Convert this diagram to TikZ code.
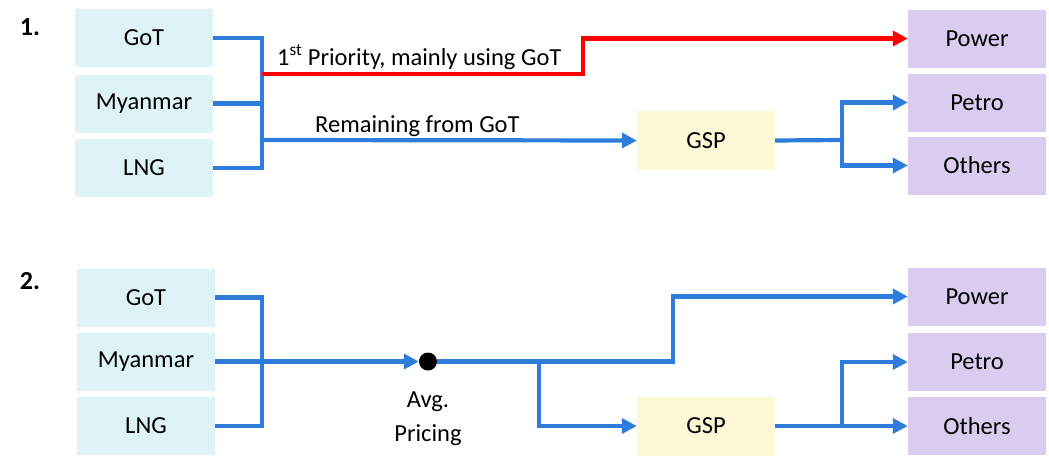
\documentclass[tikz,border=0pt]{standalone}
\usepackage{fontspec}
\setmainfont{Carlito}
\usetikzlibrary{arrows.meta}
\definecolor{srcfill}{RGB}{221,243,246}
\definecolor{dstfill}{RGB}{217,204,238}
\definecolor{gspfill}{RGB}{253,249,214}
\definecolor{flowblue}{RGB}{46,125,220}
\definecolor{flowred}{RGB}{255,0,0}
\tikzset{
  box/.style={rectangle, draw=none, minimum width=138pt, minimum height=58pt, inner sep=0pt,
              font=\fontsize{24.5}{28}\selectfont},
  srcbox/.style={box, fill=srcfill},
  dstbox/.style={box, fill=dstfill},
  gspbox/.style={box, fill=gspfill, minimum height=59pt},
  flow/.style={draw=flowblue, line width=4.2pt},
  redflow/.style={draw=flowred, line width=4.2pt},
  tip/.style={-{Triangle[length=15pt,width=15pt]}},
  lbl/.style={font=\fontsize{24.5}{28}\selectfont, inner sep=0pt},
  num/.style={font=\fontsize{26}{28}\selectfont\bfseries, inner sep=0pt}
}
\begin{document}
\begin{tikzpicture}[x=1pt,y=-1pt]
\useasboundingbox (0,0) rectangle (1049,455);

% ---------- Part 1 ----------
\node[num] (n1) at (30,27) {1.};
\node[srcbox] (got1) at (144,38) {GoT};
\node[srcbox] (myan1) at (144,103.5) {Myanmar};
\node[srcbox] (lng1) at (144,168) {LNG};
\node[gspbox] (gsp1) at (706,140.5) {GSP};
\node[dstbox] (power1) at (977,38.5) {Power};
\node[dstbox] (petro1) at (977,102.5) {Petro};
\node[dstbox] (others1) at (977,165.5) {Others};

\coordinate (bus1) at (262,100);
\coordinate (r0) at (262,74);
\coordinate (r1) at (583,74);
\coordinate (g0) at (262,140);
\coordinate (s1) at (842,140);

\draw[flow] (got1.east) -| (bus1) |- (lng1.east);
\draw[flow] (myan1.east) -- (myan1.east -| bus1);
\draw[redflow, tip] (r0) -- (r1) |- (power1.west);
\draw[flow, tip] (g0) -- (gsp1.west);
\draw[flow] (gsp1.east) -- (s1);
\draw[flow, tip] (s1) |- (petro1.west);
\draw[flow, tip] (s1) |- (others1.west);

\node[lbl, anchor=base west] (t1) at (277,65) {1\textsuperscript{st} Priority, mainly using GoT};
\node[lbl, anchor=base west] (t2) at (315,132) {Remaining from GoT};

% ---------- Part 2 ----------
\node[num] (n2) at (30,281) {2.};
\node[srcbox] (got2) at (146,297.5) {GoT};
\node[srcbox] (myan2) at (146,361.5) {Myanmar};
\node[srcbox] (lng2) at (146,426) {LNG};
\node[gspbox] (gsp2) at (706,426) {GSP};
\node[dstbox] (power2) at (977,296.5) {Power};
\node[dstbox] (petro2) at (977,362) {Petro};
\node[dstbox] (others2) at (977,426) {Others};

\node[circle, fill=black, minimum size=18pt, inner sep=0pt] (dot) at (428,361.5) {};
\node[lbl] (avg) at (428,402) {Avg.};
\node[lbl] (pricing) at (428,435) {Pricing};

\coordinate (bus2) at (262,360);
\coordinate (j2) at (539,361.5);
\coordinate (u2) at (673,361.5);
\coordinate (s2) at (842,426);

\draw[flow] (got2.east) -| (bus2) |- (lng2.east);
\draw[flow, tip] (myan2.east) -- (dot.west);
\draw[flow, tip] (dot.east) -- (u2) |- (power2.west);
\draw[flow, tip] (j2) |- (gsp2.west);
\draw[flow] (gsp2.east) -- (s2);
\draw[flow, tip] (s2) |- (petro2.west);
\draw[flow, tip] (s2) -- (others2.west);
\end{tikzpicture}
\end{document}
